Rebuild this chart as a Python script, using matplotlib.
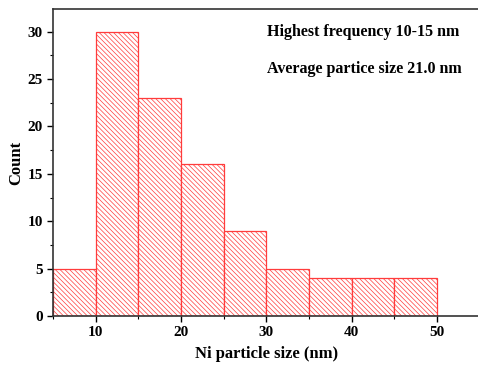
import numpy as np
import matplotlib.pyplot as plt

plt.rcParams['font.family'] = ['Liberation Serif', 'DejaVu Serif']
plt.rcParams['font.weight'] = 'bold'
plt.rcParams['hatch.color'] = '#ff9a9a'
plt.rcParams['hatch.linewidth'] = 0.5

bin_edges = [5, 10, 15, 20, 25, 30, 35, 40, 45, 50]
counts = [5, 30, 23, 16, 9, 5, 4, 4, 4]

fig = plt.figure(figsize=(4.78, 3.66), dpi=100)
ax = fig.add_axes([0.111, 0.1366, 0.8925, 0.8388])

ax.bar(bin_edges[:-1], counts, width=np.diff(bin_edges), align='edge',
       facecolor='white', edgecolor='#ff3c3c', linewidth=0.9, hatch='\\\\\\\\\\\\\\')

ax.set_xlim(5, 55)
ax.set_ylim(0, 32.4)
ax.set_xticks([10, 20, 30, 40, 50])
ax.set_xticks(np.arange(5, 55, 5), minor=True)
ax.set_yticks([0, 5, 10, 15, 20, 25, 30])
ax.set_yticks(np.arange(0, 32.5, 2.5), minor=True)
ax.tick_params(which='major', direction='out', length=4, width=1, labelsize=11)
ax.tick_params(which='minor', direction='out', length=2, width=0.8)
ax.spines['right'].set_visible(False)
for s in ['left', 'bottom', 'top']:
    ax.spines[s].set_linewidth(1.2)
    ax.spines[s].set_color('#333333')

ax.set_xlabel('Ni particle size (nm)', fontsize=12, fontweight='bold', labelpad=5)
ax.set_ylabel('Count', fontsize=12, fontweight='bold', labelpad=2)

ax.text(0.727, 0.925, 'Highest frequency 10-15 nm', transform=ax.transAxes,
        ha='center', va='center', fontsize=11.5, fontweight='bold')
ax.text(0.73, 0.805, 'Average partice size 21.0 nm', transform=ax.transAxes,
        ha='center', va='center', fontsize=11.5, fontweight='bold')

fig.savefig('out.png', dpi=100)
